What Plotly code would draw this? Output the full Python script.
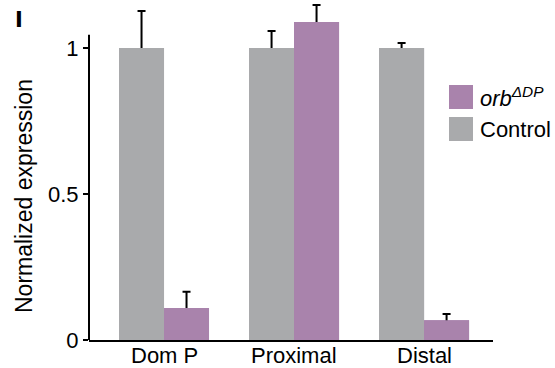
import plotly.graph_objects as go

categories = ["Dom P", "Proximal", "Distal"]
control_vals = [1.0, 1.0, 1.0]
control_err = [0.127, 0.058, 0.017]
orb_vals = [0.11, 1.089, 0.068]
orb_err = [0.055, 0.058, 0.021]
y_ticks = [0, 0.5, 1]
y_tick_labels = ["0", "0.5", "1"]

GRAY = "#a9aaac"
PURPLE = "#a983ac"
FONT = "Liberation Sans, Arial, sans-serif"

W, H = 555, 368
L, R, T, B = 89, 62, 1, 28
PW, PH = W - L - R, H - T - B


def px2x(px):
    return (px - L) / PW


def px2y(py):
    return (H - B - py) / PH


fig = go.Figure()
err_style = dict(type="data", visible=True, color="black", thickness=2, width=4)
# bars carrying the error bars
fig.add_trace(go.Bar(x=categories, y=control_vals, marker_color=GRAY, offsetgroup="c",
                     error_y=dict(array=control_err, **err_style), showlegend=False))
fig.add_trace(go.Bar(x=categories, y=orb_vals, marker_color=PURPLE, offsetgroup="o",
                     error_y=dict(array=orb_err, **err_style), showlegend=False))
# overlay bars hide the lower half of the error bars
fig.add_trace(go.Bar(x=categories, y=control_vals, marker_color=GRAY, offsetgroup="c",
                     showlegend=False, hoverinfo="skip"))
fig.add_trace(go.Bar(x=categories, y=orb_vals, marker_color=PURPLE, offsetgroup="o",
                     showlegend=False, hoverinfo="skip"))
for tr in fig.data:
    tr.marker.line.width = 0

fig.update_layout(
    template="none",
    width=W, height=H,
    margin=dict(l=L, r=R, t=T, b=B, autoexpand=False),
    paper_bgcolor="white", plot_bgcolor="white",
    barmode="group", bargap=0.308, bargroupgap=0,
    font=dict(family=FONT, size=22, color="black"),
    showlegend=False,
    xaxis=dict(showline=True, linecolor="black", linewidth=2, ticks="",
               showgrid=False, zeroline=False, range=[-0.577, 2.53],
               automargin=False, showticklabels=False),
    yaxis=dict(range=[0, 1.161], tickvals=y_ticks, ticktext=y_tick_labels,
               ticks="outside", ticklen=5, tickwidth=2, tickcolor="black",
               showline=False, showgrid=False, zeroline=False,
               automargin=False, tickfont=dict(size=22)),
)

# category labels
for cat in categories:
    fig.add_annotation(text=cat, xref="x", yref="paper", x=cat, y=px2y(355),
                       xanchor="center", yanchor="middle", showarrow=False,
                       font=dict(size=22))

# y axis line (shorter than plot height)
fig.add_shape(type="line", xref="paper", yref="y", x0=0, x1=0, y0=0, y1=1.045,
              line=dict(color="black", width=2))

# manual legend
for (label, color, top) in [("<i>orb</i><sup><i>ΔDP</i></sup>", PURPLE, 85),
                            ("Control", GRAY, 117)]:
    fig.add_shape(type="rect", xref="paper", yref="paper",
                  x0=px2x(449), x1=px2x(473), y0=px2y(top + 24), y1=px2y(top),
                  fillcolor=color, line=dict(width=0))
    fig.add_annotation(text=label, xref="paper", yref="paper",
                       x=px2x(478), y=px2y(top + 12), xanchor="left", yanchor="middle",
                       showarrow=False, font=dict(size=22))

fig.add_annotation(text="Normalized expression", xref="paper", yref="paper",
                   x=px2x(24), y=px2y(196), textangle=-90, showarrow=False,
                   xanchor="center", yanchor="middle", font=dict(size=23))
fig.add_annotation(text="<b>I</b>", xref="paper", yref="paper",
                   x=px2x(13), y=px2y(20), xanchor="left", yanchor="middle",
                   showarrow=False, font=dict(size=21, family="DejaVu Sans"))

fig.write_html("out.html", config={"displayModeBar": False},
               post_script="document.body.style.margin='0';document.body.style.overflow='hidden';")
